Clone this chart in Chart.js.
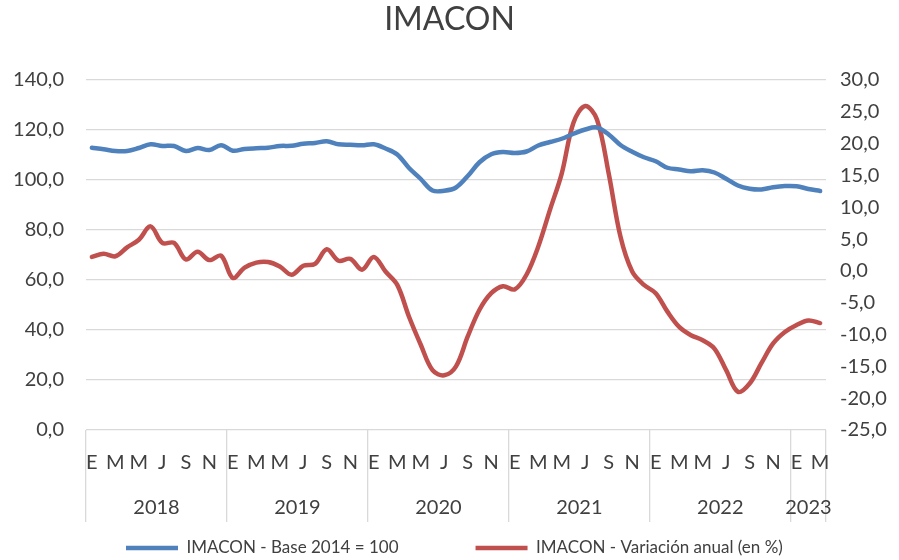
<!DOCTYPE html>
<html><head><meta charset="utf-8">
<script src="https://cdn.jsdelivr.net/npm/chart.js@4/dist/chart.umd.min.js"></script>
<style>html,body{margin:0;padding:0;background:#fff;overflow:hidden}#wrap{width:899px;height:560px;position:relative}</style>
</head><body><div id="wrap"><canvas id="c" width="899" height="560"></canvas></div>
<script>
const years = ['2018', '2019', '2020', '2021', '2022', '2023'];
const monthsPerYear = [12, 12, 12, 12, 12, 3];
const monthLetters = ['E', 'F', 'M', 'A', 'M', 'J', 'J', 'A', 'S', 'O', 'N', 'D'];

const indexValues = [
  112.9, 112.3, 111.6, 111.6, 112.8, 114.3, 113.6, 113.6, 111.6, 112.8, 112.0, 113.9,
  111.7, 112.4, 112.7, 112.9, 113.6, 113.7, 114.5, 114.8, 115.5, 114.3, 114.1, 113.9,
  114.3, 112.6, 110.2, 104.8, 100.4, 95.8, 95.7, 97.0, 101.6, 107.1, 110.3, 111.2,
  110.8, 111.4, 113.8, 115.2, 116.5, 118.5, 120.2, 121.0, 118.2, 114.0, 111.3, 109.1,
  107.5, 104.9, 104.2, 103.5, 103.9, 103.0, 100.5, 97.8, 96.5, 96.2, 97.1, 97.6,
  97.5, 96.4, 95.6
];
const annualChange = [
  2.2, 2.7, 2.3, 3.7, 4.9, 7.0, 4.4, 4.4, 1.8, 3.0, 1.7, 2.4,
  -1.1, 0.5, 1.3, 1.4, 0.7, -0.6, 0.8, 1.1, 3.4, 1.6, 1.9, 0.2,
  2.2, -0.1, -2.2, -7.2, -11.6, -15.6, -16.4, -15.0, -10.3, -6.1, -3.5, -2.4,
  -2.9, -0.6, 3.8, 9.6, 15.3, 23.3, 25.9, 23.8, 15.3, 5.4, -0.1, -2.2,
  -3.5, -6.4, -8.8, -10.1, -10.9, -12.2, -15.6, -19.0, -17.7, -14.5, -11.4, -9.6,
  -8.5, -7.8, -8.2
];
const seriesNames = ['IMACON - Base 2014 = 100', 'IMACON - Variación anual (en %)'];
const leftAxis = [0, 140, 20];
const rightAxis = [-25, 30, 5];

// build categories and year boundaries from the arrays above
const categories = [];
const yearBounds = [0];
const yearMids = [];
years.forEach((y, k) => {
  for (let m = 0; m < monthsPerYear[k]; m++) categories.push(monthLetters[m]);
  const start = yearBounds[yearBounds.length - 1];
  yearMids.push(start + monthsPerYear[k] / 2);
  yearBounds.push(start + monthsPerYear[k]);
});
const nCat = categories.length;

const FONT = 'Lato';
const TXT = '#404040';
const GRID = '#d9d9d9';
const fmt = v => Number(v).toFixed(1).replace('.', ',');

const legendPlace = {
  id: 'legendPlace',
  afterLayout(chart) {
    const lg = chart.legend;
    if (!lg) return;
    const pad = lg.options.labels.padding;
    const fs = lg.options.labels.font.size;
    lg.top = 548 - fs / 2 - pad;
    lg.left = 126 - pad;
    lg.right = 1400;
  }
};

new Chart(document.getElementById('c'), {
  type: 'line',
  data: {
    labels: categories,
    datasets: [
      { label: seriesNames[0], data: indexValues, yAxisID: 'y', xAxisID: 'x',
        borderColor: '#4F81BD', backgroundColor: '#4F81BD', borderWidth: 4.5,
        pointRadius: 0, tension: 0.35, borderCapStyle: 'round', borderJoinStyle: 'round', fill: false },
      { label: seriesNames[1], data: annualChange, yAxisID: 'y1', xAxisID: 'x',
        borderColor: '#C0504D', backgroundColor: '#C0504D', borderWidth: 4.5,
        pointRadius: 0, tension: 0.35, borderCapStyle: 'round', borderJoinStyle: 'round', fill: false }
    ]
  },
  options: {
    responsive: false,
    animation: false,
    layout: { padding: 0 },
    plugins: {
      title: { display: true, text: 'IMACON', color: TXT,
        font: { family: FONT, size: 32, weight: 'normal', lineHeight: 1.2 },
        padding: { top: 0.8, bottom: 40.8 } },
      legend: {
        position: 'bottom', align: 'start', maxHeight: 36,
        labels: { usePointStyle: true, pointStyle: 'line', pointStyleWidth: 52, padding: 77,
          color: TXT, font: { family: FONT, size: 17 } }
      },
      tooltip: { enabled: false }
    },
    scales: {
      x: {
        type: 'category', position: 'bottom', offset: true, weight: 0,
        grid: { offset: true, drawOnChartArea: false, drawTicks: true, tickLength: 45, lineWidth: 1.3,
          color: c => (c.index === undefined || c.index % 12 === 0) ? GRID : 'rgba(0,0,0,0)' },
        border: { display: false },
        ticks: { autoSkip: false, maxRotation: 0, minRotation: 0, padding: -24, color: TXT,
          font: { family: FONT, size: 20 },
          callback: function (v, i) { return i % 2 === 0 ? this.getLabelForValue(v) : ''; } },
        afterFit: s => { s.height = 45; }
      },
      x2: {
        type: 'linear', position: 'bottom', weight: 1, min: 0, max: nCat,
        grid: { drawOnChartArea: false, drawTicks: true, tickLength: 47, lineWidth: 1.3,
          color: c => (c.tick && yearBounds.includes(c.tick.value)) ? GRID : 'rgba(0,0,0,0)' },
        border: { display: false },
        afterBuildTicks: s => {
          const vals = yearBounds.concat(yearMids).sort((a, b) => a - b);
          s.ticks = vals.map(v => ({ value: v }));
        },
        ticks: { autoSkip: false, maxRotation: 0, minRotation: 0, padding: -26, color: TXT,
          font: { family: FONT, size: 20 },
          callback: v => { const k = yearMids.indexOf(v); return k >= 0 ? years[k] : ''; } },
        afterFit: s => { s.height = 49; }
      },
      y: {
        type: 'linear', position: 'left', min: leftAxis[0], max: leftAxis[1],
        grid: { color: GRID, lineWidth: 1.3, drawTicks: false },
        border: { display: false },
        ticks: { stepSize: leftAxis[2], padding: 22, color: TXT, font: { family: FONT, size: 20 }, callback: fmt },
        afterFit: s => { s.width = 86; }
      },
      y1: {
        type: 'linear', position: 'right', min: rightAxis[0], max: rightAxis[1],
        grid: { drawOnChartArea: false, drawTicks: false },
        border: { display: false },
        ticks: { stepSize: rightAxis[2], padding: 14, color: TXT, font: { family: FONT, size: 20 }, callback: fmt },
        afterFit: s => { s.width = 73; }
      }
    }
  },
  plugins: [legendPlace]
});
</script>
</body></html>
